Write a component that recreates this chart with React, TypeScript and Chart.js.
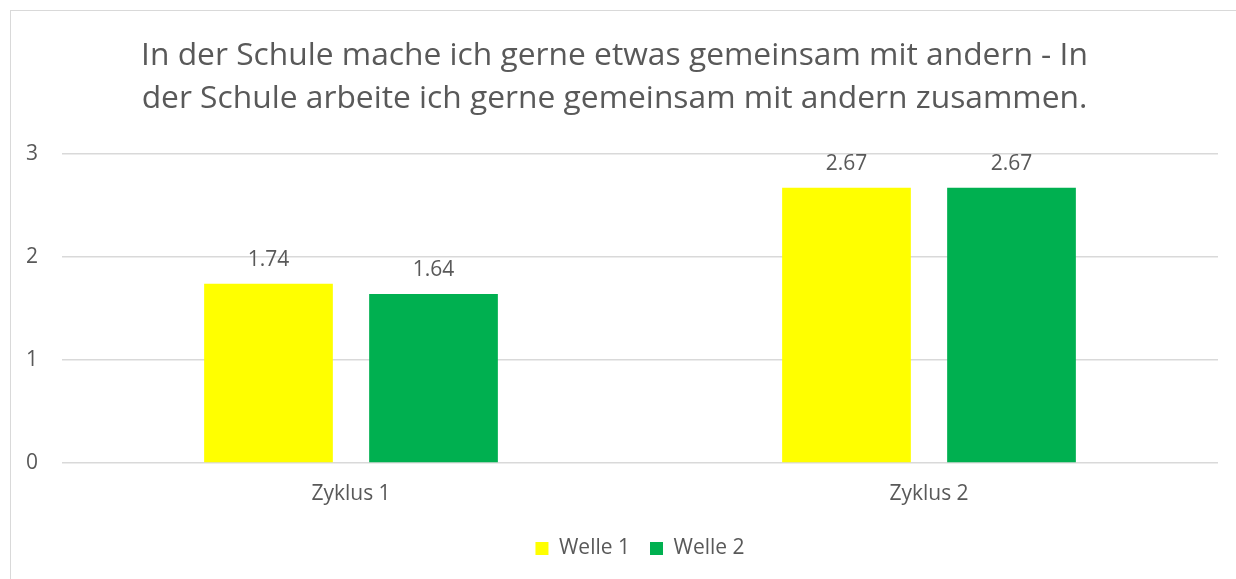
import React, { useEffect, useRef } from "react";
import { Chart, registerables } from "chart.js";

Chart.register(...registerables);

const titleLines = [
  "In der Schule mache ich gerne etwas gemeinsam mit andern - In",
  "der Schule arbeite ich gerne gemeinsam mit andern zusammen.",
];
const categories = ["Zyklus 1", "Zyklus 2"];
const welle1 = [1.74, 2.67];
const welle2 = [1.64, 2.67];
const seriesNames = ["Welle 1", "Welle 2"];
const yTicks = [0, 1, 2, 3];

const TEXT = "#595959";
const GRID = "#d9d9d9";
const FONT = "'Open Sans', sans-serif";

const dataLabels = {
  id: "dataLabels",
  afterDatasetsDraw(chart: any) {
    const ctx = chart.ctx;
    ctx.save();
    ctx.fillStyle = TEXT;
    ctx.font = `21px ${FONT}`;
    ctx.textAlign = "center";
    ctx.textBaseline = "alphabetic";
    chart.data.datasets.forEach((ds: any, i: number) => {
      const meta = chart.getDatasetMeta(i);
      meta.data.forEach((el: any, j: number) => {
        ctx.fillText(Number(ds.data[j]).toFixed(2), el.x, el.y - 18);
      });
    });
    ctx.restore();
  },
};

export default function App() {
  const ref = useRef<HTMLCanvasElement>(null);
  useEffect(() => {
    document.body.style.overflow = "hidden";
    const chart = new Chart(ref.current!, {
      type: "bar",
      data: {
        labels: categories,
        datasets: [
          {
            label: seriesNames[0],
            data: welle1,
            backgroundColor: "#FFFF00",
            categoryPercentage: 0.571,
            barPercentage: 0.78,
          },
          {
            label: seriesNames[1],
            data: welle2,
            backgroundColor: "#00B050",
            categoryPercentage: 0.571,
            barPercentage: 0.78,
          },
        ],
      },
      options: {
        responsive: false,
        animation: false,
        layout: { padding: { left: 0, right: 18, top: 0, bottom: 10 } },
        plugins: {
          title: {
            display: true,
            text: titleLines,
            color: TEXT,
            font: { family: FONT, size: 31.75, weight: "normal", lineHeight: 1.36 },
            padding: { top: 23.5, bottom: 33 },
          },
          legend: {
            position: "bottom",
            fullSize: false,
            labels: {
              color: TEXT,
              font: { family: FONT, size: 21 },
              boxWidth: 13,
              boxHeight: 13,
              padding: 20,
            },
          },
          tooltip: { enabled: false },
        },
        scales: {
          x: {
            grid: { display: false },
            border: { display: false },
            ticks: { color: TEXT, font: { family: FONT, size: 21 }, padding: 10 },
            afterFit(scale: any) {
              scale.height = 55;
            },
          },
          y: {
            min: 0,
            max: 3,
            afterBuildTicks(scale: any) {
              scale.ticks = yTicks.map((v) => ({ value: v }));
            },
            grid: { color: GRID, lineWidth: 1.5, drawTicks: false },
            border: { display: false },
            ticks: { color: TEXT, font: { family: FONT, size: 21 }, padding: 24 },
            afterFit(scale: any) {
              scale.width = 51;
            },
          },
        },
      },
      plugins: [dataLabels],
    });
    return () => chart.destroy();
  }, []);
  return (
    <div
      style={{
        position: "absolute",
        left: 10,
        top: 10,
        borderLeft: `1px solid ${GRID}`,
        borderTop: `1px solid ${GRID}`,
        background: "#fff",
      }}
    >
      <canvas ref={ref} width={1225} height={568} style={{ display: "block" }} />
    </div>
  );
}
